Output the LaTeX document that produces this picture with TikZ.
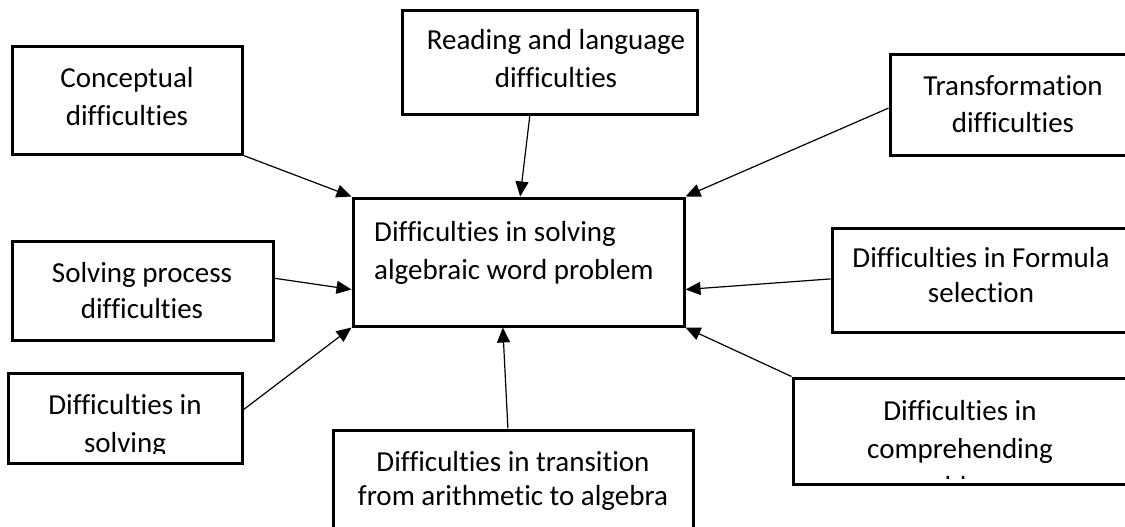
\documentclass[tikz,border=0pt]{standalone}
\usepackage{fontspec}
\setmainfont{Carlito}[Ligatures=NoCommon]
\usetikzlibrary{arrows.meta,calc}
\begin{document}
\begin{tikzpicture}[x=1pt,y=-1pt,
  box/.style={draw,line width=3pt,rectangle,inner sep=0pt},
  lbl/.style={font=\fontsize{29}{#1}\selectfont,align=center,anchor=base,inner sep=0pt},
  lbl/.default=37,
  conn/.style={line width=1.2pt,-{Triangle[length=15pt,width=13pt]}}]
\useasboundingbox (0,0) rectangle (1125,527);
% boxes
\node[box,minimum width=230,minimum height=107] (concept) at (127,100.5) {};
\node[box,minimum width=295,minimum height=103] (reading) at (549.5,62.5) {};
\node[box,minimum width=245,minimum height=100] (trans) at (1012.5,105) {};
\node[box,minimum width=331,minimum height=128] (main) at (518.5,262) {};
\node[box,minimum width=261,minimum height=99] (process) at (142.5,290.5) {};
\node[box,minimum width=298,minimum height=104] (formula) at (981,280) {};
\node[box,minimum width=234,minimum height=90] (solving) at (125,418) {};
\node[box,minimum width=334,minimum height=106] (compr) at (960,431) {};
\node[box,minimum width=360,minimum height=115] (transit) at (513,487.5) {};
% texts (anchored at the baseline of the last line)
\node[lbl=38] (tconcept) at (127,125) {Conceptual\\difficulties};
\node[lbl=38] (treading) at (556,88) {Reading and language\\difficulties};
\node[lbl=37] (ttrans) at (1013,132) {Transformation\\difficulties};
\node[lbl=38,align=left,anchor=base west] (tmain) at (374,279) {Difficulties in solving\\algebraic word problem};
\node[lbl=36] (tprocess) at (142,318) {Solving process\\difficulties};
\node[lbl=35] (tformula) at (981,302) {Difficulties in Formula\\selection};
\begin{scope}
\clip (0,0) rectangle (260,453);
\node[lbl=38] (tsolving) at (125,452) {Difficulties in\\solving};
\end{scope}
\begin{scope}
\clip (780,0) rectangle (1125,478);
\node[lbl=38] (tcompr) at (960,496) {Difficulties in\\comprehending\\problems};
\end{scope}
\node[lbl=34] (ttransit) at (513,505) {Difficulties in transition\\from arithmetic to algebra};
% connectors
\draw[conn] (concept.south east) -- (main.north west);
\draw[conn] ($(reading.south west)!0.434!(reading.south east)$) -- ($(main.north west)!0.505!(main.north east)$);
\draw[conn] ($(trans.north west)!0.53!(trans.south west)$) -- (main.north east);
\draw[conn] ($(process.north east)!0.38!(process.south east)$) -- ($(main.north west)!0.71!(main.south west)$);
\draw[conn] ($(formula.north west)!0.49!(formula.south west)$) -- ($(main.north east)!0.71!(main.south east)$);
\draw[conn] ($(solving.north east)!0.41!(solving.south east)$) -- (main.south west);
\draw[conn] (compr.north west) -- (main.south east);
\draw[conn] ($(transit.north west)!0.486!(transit.north east)$) -- ($(main.south west)!0.453!(main.south east)$);
\end{tikzpicture}
\end{document}
